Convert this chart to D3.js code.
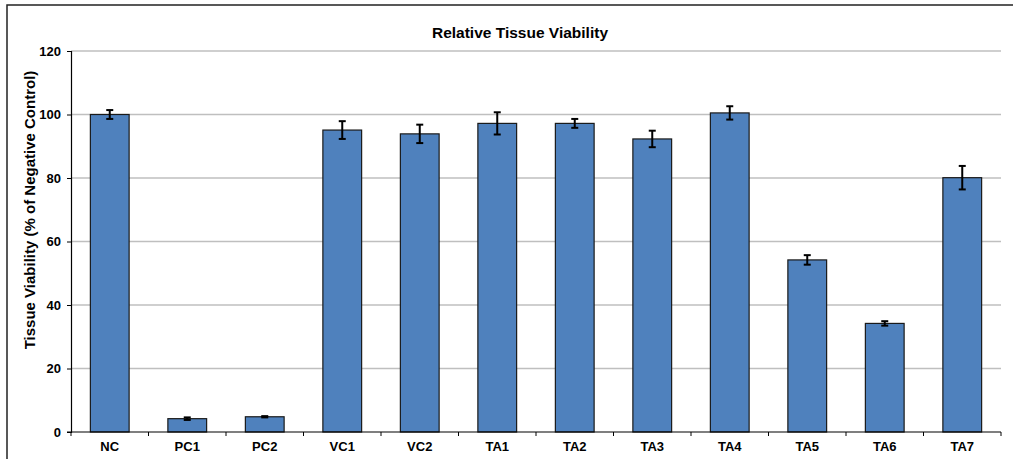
<!DOCTYPE html>
<html>
<head>
<meta charset="utf-8">
<style>
body { margin: 0; background: #fff; }
text { font-family: "Liberation Sans", Arial, sans-serif; font-weight: bold; fill: #000; }
.grid line { stroke: #bfbfbf; stroke-width: 1.5; }
.bar { fill: #4f81bd; stroke: #1a1a1a; stroke-width: 1.2; }
.err { stroke: #000; stroke-width: 2; }
</style>
</head>
<body>
<script src="https://d3js.org/d3.v7.min.js"></script>
<script>
var categories = ["NC", "PC1", "PC2", "VC1", "VC2", "TA1", "TA2", "TA3", "TA4", "TA5", "TA6", "TA7"];
var viability = [100, 4.2, 4.8, 95.1, 93.9, 97.2, 97.2, 92.3, 100.5, 54.2, 34.2, 80.1];
var errors = [1.4, 0.4, 0.2, 2.8, 2.9, 3.5, 1.4, 2.6, 2.1, 1.5, 0.7, 3.7];
var yTicks = [0, 20, 40, 60, 80, 100, 120];

var width = 1013, height = 459;
var m = {left: 71, right: 12, top: 51, bottom: 27};

var svg = d3.select("body").append("svg")
	.attr("width", width)
	.attr("height", height);

// chart frame
svg.append("rect")
	.attr("x", 7).attr("y", 5)
	.attr("width", width + 10).attr("height", height + 10)
	.attr("fill", "none").attr("stroke", "#222").attr("stroke-width", 1.5);

var x = d3.scaleBand()
	.domain(categories)
	.range([m.left, width - m.right])
	.paddingInner(0.5)
	.paddingOuter(0.25);

var y = d3.scaleLinear()
	.domain([0, 120])
	.range([height - m.bottom, m.top]);

// gridlines
svg.append("g").attr("class", "grid")
	.selectAll("line")
	.data(yTicks.slice(1))
	.enter().append("line")
	.attr("x1", m.left).attr("x2", width - m.right)
	.attr("y1", function(d) { return y(d); })
	.attr("y2", function(d) { return y(d); });

// bars
var data = categories.map(function(c, i) { return {c: c, v: viability[i], e: errors[i]}; });

svg.append("g").selectAll("rect")
	.data(data)
	.enter().append("rect")
	.attr("class", "bar")
	.attr("x", function(d) { return x(d.c); })
	.attr("width", x.bandwidth())
	.attr("y", function(d) { return y(d.v); })
	.attr("height", function(d) { return y(0) - y(d.v); });

// error bars
var eb = svg.append("g").selectAll("g")
	.data(data)
	.enter().append("g")
	.attr("class", "err");
eb.append("line")
	.attr("x1", function(d) { return x(d.c) + x.bandwidth() / 2; })
	.attr("x2", function(d) { return x(d.c) + x.bandwidth() / 2; })
	.attr("y1", function(d) { return y(d.v + d.e); })
	.attr("y2", function(d) { return y(d.v - d.e); });
[1, -1].forEach(function(s) {
	eb.append("line")
		.attr("x1", function(d) { return x(d.c) + x.bandwidth() / 2 - 3.5; })
		.attr("x2", function(d) { return x(d.c) + x.bandwidth() / 2 + 3.5; })
		.attr("y1", function(d) { return y(d.v + s * d.e); })
		.attr("y2", function(d) { return y(d.v + s * d.e); });
});

// y axis
var yAxis = svg.append("g")
	.attr("transform", "translate(" + m.left + ",0)")
	.call(d3.axisLeft(y).tickValues(yTicks).tickSize(4).tickPadding(6));
yAxis.select(".domain").attr("stroke", "#000").attr("stroke-width", 1.2);
yAxis.selectAll(".tick line").attr("stroke", "#000");
yAxis.selectAll("text").style("font-size", "13px").style("font-family", "Liberation Sans, Arial, sans-serif").style("font-weight", "bold");

// x axis with ticks between categories
var xa = svg.append("g").attr("transform", "translate(0," + y(0) + ")");
xa.append("line")
	.attr("x1", m.left - 4).attr("x2", width - m.right)
	.attr("stroke", "#000").attr("stroke-width", 1.2);
var step = x.step();
xa.selectAll(".xt")
	.data(d3.range(categories.length + 1))
	.enter().append("line")
	.attr("x1", function(i) { return m.left + i * step; })
	.attr("x2", function(i) { return m.left + i * step; })
	.attr("y1", 0).attr("y2", 4)
	.attr("stroke", "#000");
xa.selectAll("text")
	.data(categories)
	.enter().append("text")
	.attr("x", function(d) { return x(d) + x.bandwidth() / 2; })
	.attr("y", 19)
	.attr("text-anchor", "middle")
	.style("font-size", "13px")
	.text(function(d) { return d; });

// title
svg.append("text")
	.attr("x", 520).attr("y", 38)
	.attr("text-anchor", "middle")
	.style("font-size", "15.5px")
	.text("Relative Tissue Viability");

// y label
svg.append("text")
	.attr("transform", "translate(35,210) rotate(-90)")
	.attr("text-anchor", "middle")
	.style("font-size", "15px")
	.text("Tissue Viability (% of Negative Control)");
</script>
</body>
</html>
